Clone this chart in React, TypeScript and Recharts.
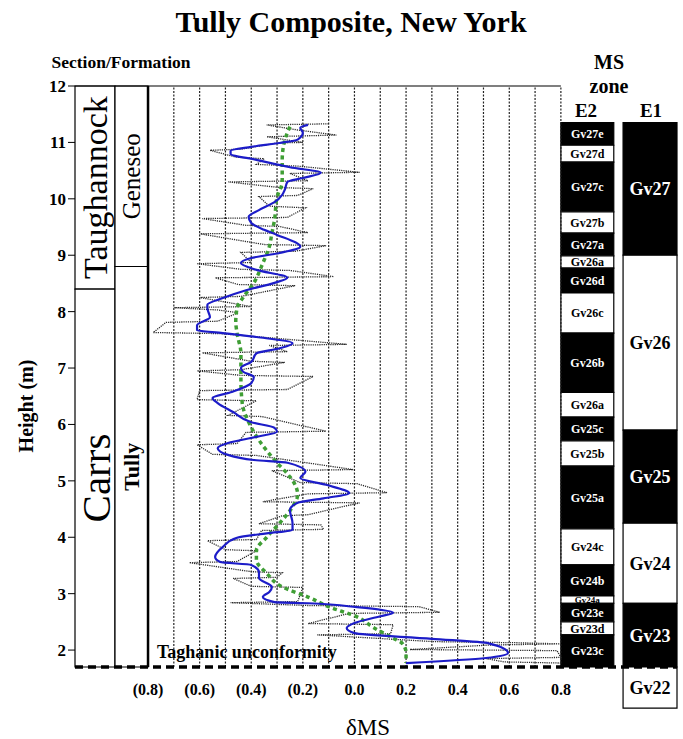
import React from 'react'
import { ScatterChart, Scatter, XAxis, YAxis, ReferenceArea, ReferenceLine } from 'recharts'

// raw δMS samples (thin dotted zig-zag), height in m
const rawHeight = [
  11.33, 11.31, 11.22, 11.13, 11.1, 11.0, 10.99, 10.88, 10.86, 10.74, 10.71, 10.61, 10.58, 10.47, 10.45,
  10.32, 10.3, 10.2, 10.18, 10.06, 10.04, 9.87, 9.84, 9.67, 9.65, 9.53, 9.51, 9.4, 9.38, 9.19, 9.17,
  9.07, 9.05, 8.87, 8.85, 8.75, 8.73, 8.62, 8.6, 8.48, 8.46, 8.27, 8.25, 8.09, 8.07, 8.03, 7.98, 7.83,
  7.81, 7.63, 7.61, 7.42, 7.4, 7.29, 7.27, 7.12, 7.1, 6.97, 6.95, 6.87, 6.85, 6.62, 6.6, 6.44, 6.42,
  6.16, 6.14, 5.88, 5.86, 5.66, 5.64, 5.47, 5.45, 5.2, 5.18, 4.97, 4.95, 4.79, 4.77, 4.63, 4.61, 4.4,
  4.38, 4.24, 4.22, 4.14, 4.12, 3.96, 3.94, 3.78, 3.76, 3.57, 3.55, 3.39, 3.37, 3.29, 3.27, 3.13, 3.11,
  2.86, 2.84, 2.79, 2.77, 2.67, 2.65, 2.47, 2.45, 2.29, 2.27, 2.15, 2.13, 2.11, 2.09, 2.01, 1.99, 1.87,
  1.85, 1.79, 1.77,
]
const rawDms = [
  -0.1, -0.34, -0.22, -0.07, -0.34, -0.2, -0.3, -0.44, -0.56, -0.46, -0.35, -0.38, -0.22, 0.02, -0.25,
  -0.18, -0.49, -0.29, -0.16, -0.22, -0.37, -0.33, -0.19, -0.26, -0.59, -0.42, -0.29, -0.18, -0.6, -0.35, -0.11,
  -0.23, -0.44, -0.4, -0.61, -0.44, -0.25, -0.08, -0.54, -0.45, -0.23, -0.44, -0.6, -0.4, -0.7, -0.53, -0.45, -0.53,
  -0.73, -0.78, -0.52, -0.03, -0.33, -0.26, -0.59, -0.4, -0.27, -0.44, -0.61, -0.44, -0.16, -0.26, -0.6, -0.61, -0.38,
  -0.49, -0.36, -0.11, -0.42, -0.455, -0.61, -0.55, -0.38, -0.005, -0.32, -0.21, 0.01, 0.126, -0.18, -0.355, 0.02, -0.18,
  -0.28, -0.37, -0.13, -0.12, -0.36, -0.38, -0.57, -0.5, -0.38, -0.455, -0.64, -0.4, -0.28, -0.3, -0.47, -0.4, -0.2,
  -0.22, -0.48, -0.18, 0.25, 0.33, -0.02, -0.18, 0.15, 0.14, -0.145, 0.305, 0.63, 0.8, 0.525, 0.215, 0.785, 0.8,
  0.51, 0.58, 0.8,
]

// smoothed curve (blue)
const smoothHeight = [
  11.31, 11.26, 11.17, 11.05, 10.99, 10.92, 10.85, 10.8, 10.69, 10.56, 10.46, 10.37, 10.3, 10.16, 10.07,
  9.94, 9.8, 9.68, 9.57, 9.45, 9.36, 9.15, 9.04, 8.95, 8.86, 8.74, 8.6, 8.51, 8.38, 8.24, 8.12, 8.06,
  7.9, 7.76, 7.67, 7.62, 7.55, 7.44, 7.35, 7.26, 7.11, 7.0, 6.93, 6.84, 6.73, 6.57, 6.47, 6.38, 6.22,
  6.04, 5.94, 5.87, 5.78, 5.67, 5.58, 5.46, 5.37, 5.32, 5.16, 5.05, 4.93, 4.78, 4.69, 4.61, 4.48, 4.25,
  4.13, 4.07, 3.99, 3.83, 3.65, 3.56, 3.51, 3.38, 3.28, 3.12, 3.03, 2.94, 2.85, 2.83, 2.76, 2.66, 2.6,
  2.48, 2.39, 2.3, 2.2, 2.12, 1.95, 1.86, 1.77,
]
const smoothDms = [
  -0.18, -0.21, -0.2, -0.22, -0.29, -0.4, -0.48, -0.48, -0.38, -0.25, -0.13, -0.2, -0.26, -0.27, -0.28,
  -0.31, -0.37, -0.41, -0.4, -0.35, -0.3, -0.21, -0.29, -0.4, -0.44, -0.38, -0.26, -0.31, -0.42, -0.51, -0.57, -0.57,
  -0.56, -0.61, -0.61, -0.51, -0.38, -0.24, -0.29, -0.38, -0.4, -0.44, -0.43, -0.39, -0.4, -0.48, -0.55, -0.53, -0.47,
  -0.4, -0.31, -0.3, -0.38, -0.49, -0.53, -0.49, -0.39, -0.26, -0.19, -0.21, -0.11, -0.02, -0.12, -0.22, -0.25, -0.24,
  -0.24, -0.34, -0.455, -0.51, -0.54, -0.52, -0.4, -0.37, -0.37, -0.32, -0.33, -0.355, -0.31, -0.18, 0.01, 0.15, 0.1,
  0.0, -0.03, 0.0, 0.3, 0.52, 0.595, 0.51, 0.2,
]

// long-term trend (green dotted)
const trendHeight = [
  11.28, 11.04, 10.69, 10.3, 10.03, 9.62, 9.39, 9.15, 8.86, 8.51, 8.26, 8.06, 7.82, 7.62, 7.26, 6.79,
  6.38, 5.95, 5.72, 5.37, 5.07, 4.93, 4.75, 4.54, 4.25, 4.0, 3.77, 3.6, 3.36, 3.12, 2.94, 2.76, 2.59,
  2.41, 2.21, 2.12, 1.95, 1.77,
]
const trendDms = [
  -0.25, -0.27, -0.28, -0.28, -0.3, -0.31, -0.32, -0.33, -0.355, -0.39, -0.43, -0.455, -0.46, -0.455, -0.44, -0.44,
  -0.435, -0.4, -0.37, -0.31, -0.25, -0.23, -0.22, -0.24, -0.29, -0.34, -0.38, -0.38, -0.34, -0.28, -0.18, -0.095, 0.01,
  0.07, 0.15, 0.185, 0.2, 0.2,
]

const heightTicks = [2, 3, 4, 5, 6, 7, 8, 9, 10, 11, 12]
const dmsTicks = [-0.8, -0.6, -0.4, -0.2, 0, 0.2, 0.4, 0.6, 0.8]
const dmsGrid = [-0.7, -0.6, -0.5, -0.4, -0.3, -0.2, -0.1, 0, 0.1, 0.2, 0.3, 0.4, 0.5, 0.6, 0.7, 0.8]

const sectionNames = ['Taughannock', 'Carrs']
const sectionEdges = [12, 8.4, 1.7]
const formationNames = ['Geneseo', 'Tully']
const formationEdges = [12, 8.8, 1.7]

const e2Names = ['Gv27e', 'Gv27d', 'Gv27c', 'Gv27b', 'Gv27a', 'Gv26a', 'Gv26d', 'Gv26c', 'Gv26b', 'Gv26a',
  'Gv25c', 'Gv25b', 'Gv25a', 'Gv24c', 'Gv24b', 'Gv24a', 'Gv23e', 'Gv23d', 'Gv23c']
const e2Edges = [11.35, 10.95, 10.65, 9.77, 9.39, 8.99, 8.77, 8.33, 7.62, 6.57, 6.13, 5.71, 5.26, 4.15,
  3.51, 2.96, 2.83, 2.5, 2.27, 1.7]
const e2Dark = [true, false, true, false, true, false, true, false, true, false, true, false, true, false,
  true, false, true, false, true]

const e1Names = ['Gv27', 'Gv26', 'Gv25', 'Gv24', 'Gv23', 'Gv22']
const e1Edges = [11.35, 9.0, 5.9, 4.25, 2.83, 1.7, 0.97]
const e1Dark = [true, false, true, false, true, false]

// column extents in δMS units
const X_MIN = -1.083
const X_MAX = 1.25
const SECTION_X: [number, number] = [-1.083, -0.928]
const FORMATION_X: [number, number] = [-0.928, -0.8]
const E2_X: [number, number] = [0.8, 1.005]
const E1_X: [number, number] = [1.041, 1.25]

const SERIF = "'Liberation Serif', 'Times New Roman', serif"

const pts = (h: number[], v: number[]) => h.map((hh, i) => ({ h: hh, v: v[i] }))
const rawData = pts(rawHeight, rawDms)
const smoothData = pts(smoothHeight, smoothDms)
const trendData = pts(trendHeight, trendDms)

const fmtDms = (v: number) => (v < 0 ? `(${Math.abs(v).toFixed(1)})` : v.toFixed(1))
const noDot = () => <g />

const zoneAreas = (
  names: string[], edges: number[], dark: boolean[], xs: [number, number], fontSize: number, key: string,
) =>
  names.map((name, i) => (
    <ReferenceArea
      key={`${key}-${i}`}
      x1={xs[0]} x2={xs[1]} y1={edges[i + 1]} y2={edges[i]}
      fill={dark[i] ? '#000' : '#fff'} fillOpacity={1}
      stroke="#000" strokeWidth={1.2}
      ifOverflow="visible"
      label={{
        value: name, position: 'center', fill: dark[i] ? '#fff' : '#000',
        fontSize: name === 'Gv24a' ? 9 : fontSize, fontWeight: 'bold', fontFamily: SERIF,
      }}
    />
  ))

export default function App() {
  return (
    <div style={{ position: 'absolute', left: 0, top: 0, width: 683, height: 739, background: '#fff' }}>
      <ScatterChart width={683} height={739} margin={{ top: 86, right: 6, bottom: 32, left: 25 }}>
        <XAxis
          type="number" dataKey="v" domain={[X_MIN, X_MAX]} ticks={dmsTicks} allowDataOverflow
          tickFormatter={fmtDms} axisLine={false} tickLine={false} tickMargin={11} height={40}
          tick={{ fill: '#000', fontSize: 16, fontWeight: 'bold', fontFamily: SERIF }}
        />
        <YAxis
          type="number" dataKey="h" domain={[1.7, 12]} ticks={heightTicks} allowDataOverflow
          axisLine={false} tickLine={{ stroke: '#000' }} tickSize={7} width={50}
          tick={{ fill: '#000', fontSize: 17, fontWeight: 'bold', fontFamily: SERIF }}
        />

        {sectionNames.map((name, i) => (
          <ReferenceArea
            key={`sec-${i}`}
            x1={SECTION_X[0]} x2={SECTION_X[1]} y1={sectionEdges[i + 1]} y2={sectionEdges[i]}
            fill="#fff" fillOpacity={1} stroke="#000" strokeWidth={1.2}
            label={{ value: name, position: 'center', angle: -90, fill: '#000', fontSize: i === 0 ? 34 : 41, fontFamily: SERIF }}
          />
        ))}
        {formationNames.map((name, i) => (
          <ReferenceArea
            key={`fm-${i}`}
            x1={FORMATION_X[0]} x2={FORMATION_X[1]} y1={formationEdges[i + 1]} y2={formationEdges[i]}
            fill="#fff" fillOpacity={1} stroke="#000" strokeWidth={1.2}
            label={{
              value: name, position: 'center', angle: -90, fill: '#000',
              fontSize: i === 0 ? 25 : 22, fontWeight: i === 0 ? 'normal' : 'bold', fontFamily: SERIF,
            }}
          />
        ))}

        {dmsGrid.map((v) => (
          <ReferenceLine key={`g-${v}`} x={v} stroke="#222" strokeWidth={1.2} strokeDasharray="2 1.5" />
        ))}
        <ReferenceLine x={-0.8} stroke="#000" strokeWidth={2.5} />
        <ReferenceLine segment={[{ x: X_MIN, y: 12 }, { x: 0.8, y: 12 }]} stroke="#000" strokeWidth={1.2} />

        {zoneAreas(e2Names, e2Edges, e2Dark, E2_X, 12, 'e2')}
        {zoneAreas(e1Names, e1Edges, e1Dark, E1_X, 18, 'e1')}

        <Scatter
          data={rawData} shape={noDot} isAnimationActive={false} legendType="none"
          line={{ stroke: '#2a2a2a', strokeWidth: 1.3, strokeDasharray: '1.2 1' }}
        />
        <Scatter
          data={trendData} shape={noDot} isAnimationActive={false} legendType="none" lineJointType="monotoneY"
          line={{ stroke: '#3f9e35', strokeWidth: 3.5, strokeDasharray: '4 3.5' }}
        />
        <Scatter
          data={smoothData} shape={noDot} isAnimationActive={false} legendType="none" lineJointType="monotoneY"
          line={{ stroke: '#1c1cc8', strokeWidth: 2.2 }}
        />

        <ReferenceLine y={1.7} stroke="#000" strokeWidth={3.5} strokeDasharray="8 5" />
      </ScatterChart>

      <svg width={683} height={739} style={{ position: 'absolute', left: 0, top: 0, pointerEvents: 'none' }}
        fontFamily={SERIF} fontWeight="bold" fill="#000">
        <text x={351} y={32} fontSize={30} textAnchor="middle">Tully Composite, New York</text>
        <text x={121} y={68} fontSize={17.5} textAnchor="middle">Section/Formation</text>
        <text x={609} y={69} fontSize={20} textAnchor="middle">MS</text>
        <text x={609} y={93} fontSize={20} textAnchor="middle">zone</text>
        <text x={586} y={117} fontSize={19} textAnchor="middle">E2</text>
        <text x={651} y={117} fontSize={19} textAnchor="middle">E1</text>
        <text transform="translate(33,406) rotate(-90)" fontSize={20} textAnchor="middle">Height (m)</text>
        <text x={157} y={658} fontSize={18}>Taghanic unconformity</text>
        <text x={368} y={735} fontSize={23} fontWeight="normal" textAnchor="middle">δMS</text>
      </svg>
    </div>
  )
}
